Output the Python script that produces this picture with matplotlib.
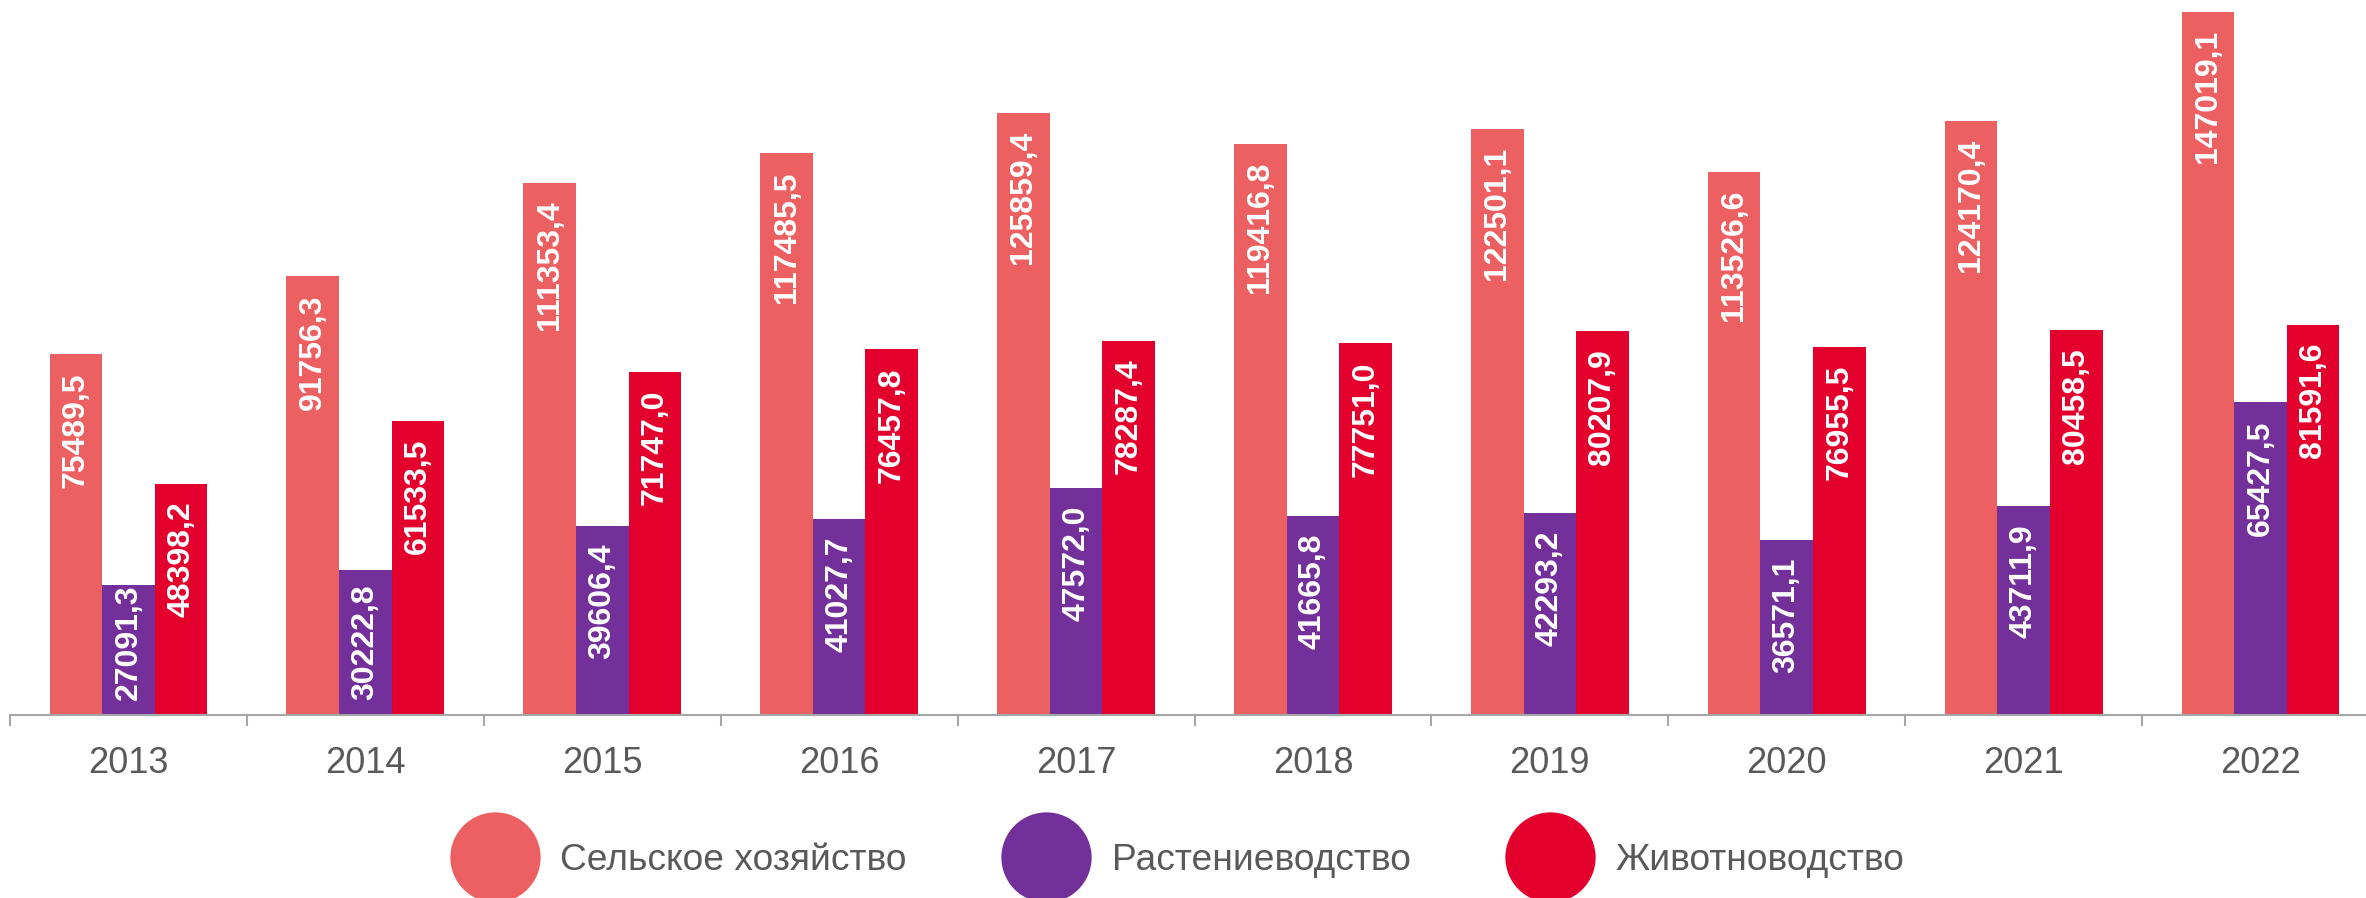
import numpy as np
import matplotlib.pyplot as plt
from matplotlib.lines import Line2D

plt.rcParams['font.family'] = ['Liberation Sans', 'DejaVu Sans']

years = ['2013', '2014', '2015', '2016', '2017', '2018', '2019', '2020', '2021', '2022']
selhoz = [75489.5, 91756.3, 111353.4, 117485.5, 125859.4, 119416.8, 122501.1, 113526.6, 124170.4, 147019.1]
rasten = [27091.3, 30222.8, 39606.4, 41027.7, 47572.0, 41665.8, 42293.2, 36571.1, 43711.9, 65427.5]
zhivot = [48398.2, 61533.5, 71747.0, 76457.8, 78287.4, 77751.0, 80207.9, 76955.5, 80458.5, 81591.6]
names = ['Сельское хозяйство', 'Растениеводство', 'Животноводство']
colors = ['#EC6062', '#73309B', '#E3002D']

W, H = 2366, 898
fig = plt.figure(figsize=(W / 100, H / 100), dpi=100)
# ось выходит за правый край картинки, как в оригинале
ax = fig.add_axes([10 / W, (H - 715) / H, 2369 / W, 715 / H])

ymax = 149520
ax.set_ylim(0, ymax)
ax.set_xlim(-0.5, len(years) - 0.5)
px_per_unit = 715 / ymax

x = np.arange(len(years))
bw = 0.222
series = [selhoz, rasten, zhivot]
for i, (vals, col) in enumerate(zip(series, colors)):
    xs = x + (i - 1) * bw
    ax.bar(xs, vals, width=bw, color=col, edgecolor='none')
    for xi, v in zip(xs, vals):
        txt = f'{v:.1f}'.replace('.', ',')
        L = 16.2 * len(txt)  # примерная длина подписи в пикселях
        h = v * px_per_unit
        top = h - 18
        if top - L < 17:
            top = 17 + L
        ax.text(xi, top / px_per_unit, txt, rotation=90, ha='center', va='top',
                color='white', fontsize=23, fontweight='bold')

for s in ['top', 'right', 'left']:
    ax.spines[s].set_visible(False)
ax.spines['bottom'].set_color('#A6A6A6')
ax.spines['bottom'].set_linewidth(1.5)
ax.set_yticks([])
ax.set_xticks(x)
ax.set_xticklabels(years)
ax.set_xticks(np.arange(-0.5, len(years), 1), minor=True)
ax.tick_params(axis='x', which='major', length=0, pad=22, labelsize=26, labelcolor='#595959')
ax.tick_params(axis='x', which='minor', length=8, width=1.5, color='#A6A6A6')

handles = [Line2D([], [], linestyle='none', marker='o', markersize=65,
                  markerfacecolor=c, markeredgecolor='none') for c in colors]
fig.legend(handles, names, loc='center', bbox_to_anchor=(0.4975, (H - 860) / H),
           ncol=3, frameon=False, fontsize=26.7, labelcolor='#595959',
           handlelength=2.43, handletextpad=0.54, columnspacing=2.56,
           borderpad=0, borderaxespad=0)

fig.savefig('out.png', dpi=100)
